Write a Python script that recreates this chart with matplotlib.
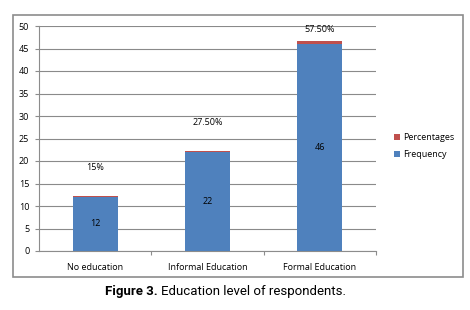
import matplotlib.pyplot as plt
from matplotlib.patches import Rectangle

categories = ["No education", "Informal Education", "Formal Education"]
frequency = [12, 22, 46]
percentages = [0.15, 0.275, 0.575]
pct_labels = ["15%", "27.50%", "57.50%"]

blue = "#4F81BD"
red = "#C0504D"
grey = "#8c8c8c"

plt.rcParams['font.family'] = ['Open Sans', 'DejaVu Sans']

fig = plt.figure(figsize=(4.7, 3.1), dpi=100)

# outer chart frame like Excel
frame = Rectangle((13 / 470, 1 - 277 / 310), 450 / 470, 262 / 310,
                  transform=fig.transFigure, fill=False, edgecolor=grey, lw=1.2)
fig.patches.append(frame)

ax = fig.add_axes([39 / 470, 1 - 251 / 310, 337 / 470, 225 / 310])
x = range(len(categories))
ax.bar(x, frequency, width=0.4, color=blue, label="Frequency", zorder=3)
ax.bar(x, percentages, width=0.4, bottom=frequency, color=red, label="Percentages", zorder=3)

ax.set_xlim(-0.5, 2.5)
ax.set_ylim(0, 50)
ax.set_yticks(range(0, 51, 5))
ax.yaxis.grid(True, color="#8a8a8a", lw=0.8)
ax.set_axisbelow(True)
for s in ["top", "right"]:
    ax.spines[s].set_visible(False)
ax.spines["left"].set_color(grey)
ax.spines["bottom"].set_color(grey)
ax.tick_params(axis="y", labelsize=6.5, length=3, color=grey, pad=4)
ax.set_xticks([0.5, 1.5, 2.5], minor=False)
ax.set_xticklabels([])
ax.tick_params(axis="x", length=3, color=grey)
ax.set_xticks(list(x), minor=True)
ax.set_xticklabels(categories, minor=True, fontsize=6.5)
ax.tick_params(axis="x", which="minor", length=0, pad=9)

for i in x:
    total = frequency[i] + percentages[i]
    ax.text(i, frequency[i] / 2, str(frequency[i]), ha="center", va="center", fontsize=6.5, zorder=4)
    ax.text(i, min(total + 6.3, 49.3), pct_labels[i], ha="center", va="center", fontsize=6.5)

h, l = ax.get_legend_handles_labels()
leg = fig.legend(h[::-1], l[::-1], loc="center left", bbox_to_anchor=(386 / 470, 1 - 146 / 310),
                 frameon=False, fontsize=6.5, handlelength=0.7, handleheight=0.7,
                 handletextpad=0.3, labelspacing=0.9)

# caption: bold "Figure 3." then regular text right after it
cap_y = 1 - 292 / 310
t1 = fig.text(105 / 470, cap_y, "Figure 3.", fontsize=9.5, family="Roboto", weight="bold",
              ha="left", va="center")
fig.canvas.draw()
bb = t1.get_window_extent()
fig.text((bb.x1 + 3) / 470, cap_y, "Education level of respondents.", fontsize=9.5,
         family="Roboto", ha="left", va="center")

plt.savefig("out.png", dpi=100)
plt.close()
